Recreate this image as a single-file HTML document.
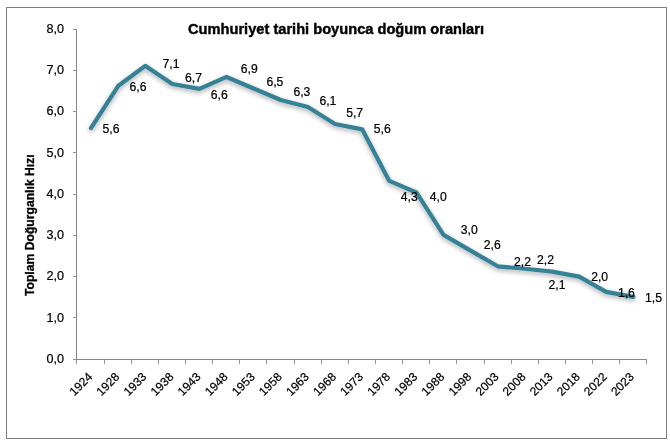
<!DOCTYPE html>
<html><head><meta charset="utf-8"><title>Cumhuriyet tarihi boyunca doğum oranları</title>
<style>
html,body{margin:0;padding:0;background:#fff;}
body{width:670px;height:445px;overflow:hidden;position:relative;font-family:"Liberation Sans",sans-serif;}
svg{position:absolute;left:0;top:0;display:block;}
text{font-family:"Liberation Sans",sans-serif;fill:#000;stroke:#000;stroke-width:0.22px;}
.dl{font-size:12.2px;}
.yl{font-size:12.6px;text-anchor:end;}
.xl{font-size:12px;text-anchor:end;}
.ttl{font-size:14.4px;font-weight:bold;stroke-width:0.4px;}
.ytl{font-size:12.2px;font-weight:bold;text-anchor:middle;stroke-width:0.3px;}
</style></head><body>
<svg style="opacity:0.999" width="670" height="445" viewBox="0 0 670 445">
<defs>
<filter id="sh" x="-5%" y="-10%" width="110%" height="125%">
<feGaussianBlur in="SourceAlpha" stdDeviation="2.6"/>
<feOffset dx="0" dy="2.4" result="b"/>
<feComponentTransfer><feFuncA type="linear" slope="0.34"/></feComponentTransfer>
<feMerge><feMergeNode/><feMergeNode in="SourceGraphic"/></feMerge>
</filter>
</defs>
<rect x="0" y="0" width="670" height="445" fill="#ffffff"/>
<rect x="6.5" y="7.5" width="660" height="431" fill="#ffffff" stroke="#7f7f7f" stroke-width="1"/>
<g stroke="#868686" stroke-width="1" fill="none" shape-rendering="crispEdges"><line x1="76.5" y1="29.50" x2="76.5" y2="359.5"/><line x1="72.5" y1="359.5" x2="647" y2="359.5"/><line x1="72.5" y1="359.5" x2="76.5" y2="359.5" stroke="#929292"/><line x1="72.5" y1="317.5" x2="76.5" y2="317.5" stroke="#929292"/><line x1="72.5" y1="276.5" x2="76.5" y2="276.5" stroke="#929292"/><line x1="72.5" y1="235.5" x2="76.5" y2="235.5" stroke="#929292"/><line x1="72.5" y1="194.5" x2="76.5" y2="194.5" stroke="#929292"/><line x1="72.5" y1="152.5" x2="76.5" y2="152.5" stroke="#929292"/><line x1="72.5" y1="111.5" x2="76.5" y2="111.5" stroke="#929292"/><line x1="72.5" y1="70.5" x2="76.5" y2="70.5" stroke="#929292"/><line x1="72.5" y1="29.5" x2="76.5" y2="29.5" stroke="#929292"/><line x1="76.5" y1="359.5" x2="76.5" y2="364.0" stroke="#929292"/><line x1="104.5" y1="359.5" x2="104.5" y2="364.0" stroke="#929292"/><line x1="131.5" y1="359.5" x2="131.5" y2="364.0" stroke="#929292"/><line x1="158.5" y1="359.5" x2="158.5" y2="364.0" stroke="#929292"/><line x1="185.5" y1="359.5" x2="185.5" y2="364.0" stroke="#929292"/><line x1="212.5" y1="359.5" x2="212.5" y2="364.0" stroke="#929292"/><line x1="239.5" y1="359.5" x2="239.5" y2="364.0" stroke="#929292"/><line x1="266.5" y1="359.5" x2="266.5" y2="364.0" stroke="#929292"/><line x1="294.5" y1="359.5" x2="294.5" y2="364.0" stroke="#929292"/><line x1="321.5" y1="359.5" x2="321.5" y2="364.0" stroke="#929292"/><line x1="348.5" y1="359.5" x2="348.5" y2="364.0" stroke="#929292"/><line x1="375.5" y1="359.5" x2="375.5" y2="364.0" stroke="#929292"/><line x1="402.5" y1="359.5" x2="402.5" y2="364.0" stroke="#929292"/><line x1="429.5" y1="359.5" x2="429.5" y2="364.0" stroke="#929292"/><line x1="456.5" y1="359.5" x2="456.5" y2="364.0" stroke="#929292"/><line x1="484.5" y1="359.5" x2="484.5" y2="364.0" stroke="#929292"/><line x1="511.5" y1="359.5" x2="511.5" y2="364.0" stroke="#929292"/><line x1="538.5" y1="359.5" x2="538.5" y2="364.0" stroke="#929292"/><line x1="565.5" y1="359.5" x2="565.5" y2="364.0" stroke="#929292"/><line x1="592.5" y1="359.5" x2="592.5" y2="364.0" stroke="#929292"/><line x1="619.5" y1="359.5" x2="619.5" y2="364.0" stroke="#929292"/><line x1="646.5" y1="359.5" x2="646.5" y2="364.0" stroke="#929292"/></g>
<text class="yl" x="64.0" y="362.90">0,0</text><text class="yl" x="64.0" y="321.65">1,0</text><text class="yl" x="64.0" y="280.40">2,0</text><text class="yl" x="64.0" y="239.15">3,0</text><text class="yl" x="64.0" y="197.90">4,0</text><text class="yl" x="64.0" y="156.65">5,0</text><text class="yl" x="64.0" y="115.40">6,0</text><text class="yl" x="64.0" y="74.15">7,0</text><text class="yl" x="64.0" y="32.90">8,0</text>
<text class="xl" transform="translate(93.17,377.50) rotate(-45)">1924</text><text class="xl" transform="translate(120.25,377.50) rotate(-45)">1928</text><text class="xl" transform="translate(147.33,377.50) rotate(-45)">1933</text><text class="xl" transform="translate(174.41,377.50) rotate(-45)">1938</text><text class="xl" transform="translate(201.49,377.50) rotate(-45)">1943</text><text class="xl" transform="translate(228.57,377.50) rotate(-45)">1948</text><text class="xl" transform="translate(255.65,377.50) rotate(-45)">1953</text><text class="xl" transform="translate(282.73,377.50) rotate(-45)">1958</text><text class="xl" transform="translate(309.81,377.50) rotate(-45)">1963</text><text class="xl" transform="translate(336.89,377.50) rotate(-45)">1968</text><text class="xl" transform="translate(363.97,377.50) rotate(-45)">1973</text><text class="xl" transform="translate(391.05,377.50) rotate(-45)">1978</text><text class="xl" transform="translate(418.13,377.50) rotate(-45)">1983</text><text class="xl" transform="translate(445.21,377.50) rotate(-45)">1988</text><text class="xl" transform="translate(472.29,377.50) rotate(-45)">1998</text><text class="xl" transform="translate(499.37,377.50) rotate(-45)">2003</text><text class="xl" transform="translate(526.45,377.50) rotate(-45)">2008</text><text class="xl" transform="translate(553.53,377.50) rotate(-45)">2013</text><text class="xl" transform="translate(580.61,377.50) rotate(-45)">2018</text><text class="xl" transform="translate(607.69,377.50) rotate(-45)">2022</text><text class="xl" transform="translate(634.77,377.50) rotate(-45)">2023</text>
<polyline points="90.97,128.10 118.09,86.03 145.21,65.81 172.33,83.96 199.45,88.91 226.57,76.95 253.69,88.50 280.81,100.05 307.93,107.06 335.05,123.98 362.17,129.34 389.29,180.90 416.41,192.45 443.53,234.94 470.65,250.61 497.77,266.29 524.89,268.76 552.01,271.65 579.13,276.60 606.25,291.86 633.37,296.81" fill="none" stroke="#368196" stroke-width="4.2" stroke-linecap="round" stroke-linejoin="round" filter="url(#sh)"/>
<text class="dl" x="102.6" y="132.6">5,6</text><text class="dl" x="129.6" y="91">6,6</text><text class="dl" x="162.6" y="67.7">7,1</text><text class="dl" x="185" y="82.2">6,7</text><text class="dl" x="210.8" y="99.2">6,6</text><text class="dl" x="240.8" y="73">6,9</text><text class="dl" x="266.4" y="86">6,5</text><text class="dl" x="293.4" y="96">6,3</text><text class="dl" x="319.4" y="105">6,1</text><text class="dl" x="346.2" y="116.8">5,7</text><text class="dl" x="373.8" y="132.6">5,6</text><text class="dl" x="400.8" y="200.6">4,3</text><text class="dl" x="429.8" y="200.6">4,0</text><text class="dl" x="460.8" y="234">3,0</text><text class="dl" x="483.8" y="249">2,6</text><text class="dl" x="514" y="266">2,2</text><text class="dl" x="537" y="264.2">2,2</text><text class="dl" x="548.6" y="288.8">2,1</text><text class="dl" x="591.2" y="281">2,0</text><text class="dl" x="617.9" y="297.3">1,6</text><text class="dl" x="645" y="301.6">1,5</text>
<text class="ttl" x="188" y="33.7" textLength="296" lengthAdjust="spacingAndGlyphs">Cumhuriyet tarihi boyunca doğum oranları</text>
<text class="ytl" transform="translate(34.3,225.2) rotate(-90)" textLength="141.7" lengthAdjust="spacingAndGlyphs">Toplam Doğurganlık Hızı</text>
</svg></body></html>
